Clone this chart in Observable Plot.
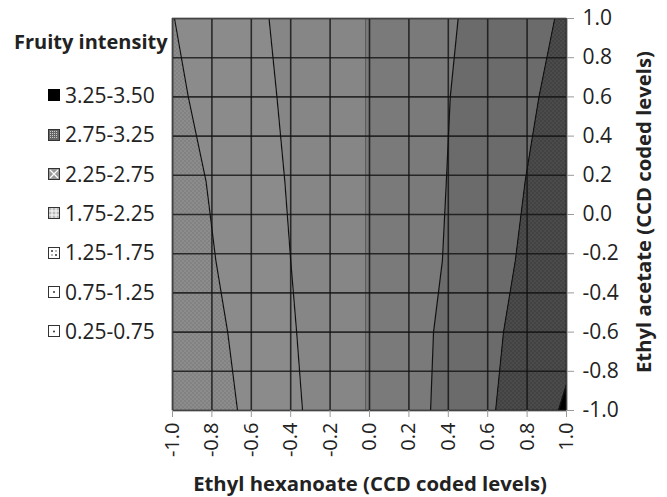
<!DOCTYPE html>
<html><head><meta charset="utf-8">
<script src="https://cdn.jsdelivr.net/npm/d3@7"></script>
<script src="https://cdn.jsdelivr.net/npm/@observablehq/plot@0.6"></script>
<style>
body{margin:0;background:#fff;font-family:"Open Sans",Lato,sans-serif;color:#222;}
#wrap{position:relative;width:667px;height:497px;overflow:hidden;}
#chart{position:absolute;left:0;top:0;}
.lg{position:absolute;font-size:21px;line-height:22px;white-space:nowrap;}
.lg svg{vertical-align:middle;margin-right:5px;position:relative;top:-2px;}
#lgTitle{position:absolute;left:14px;top:31px;font-weight:bold;font-size:20px;line-height:22px;white-space:nowrap;}
#xTitle{position:absolute;left:370px;top:483px;transform:translate(-50%,-50%);font-weight:bold;font-size:20.3px;white-space:nowrap;}
#yTitle{position:absolute;left:643px;top:212px;transform:translate(-50%,-50%) rotate(-90deg);font-weight:bold;font-size:20.3px;white-space:nowrap;}
</style></head>
<body>
<div id="wrap"><div id="chart"></div><div id="legend"></div>
<div id="lgTitle">Fruity intensity</div>
<div id="xTitle">Ethyl hexanoate (CCD coded levels)</div>
<div id="yTitle">Ethyl acetate (CCD coded levels)</div>
</div>
<script>
// ---- data ----
const xTicks = [-1.0, -0.8, -0.6, -0.4, -0.2, 0.0, 0.2, 0.4, 0.6, 0.8, 1.0];
const yTicks = [-1.0, -0.8, -0.6, -0.4, -0.2, 0.0, 0.2, 0.4, 0.6, 0.8, 1.0];
const contourY = [1.0, 0.6, 0.17, -0.235, -0.6, -1.0];   // ethyl acetate levels
const line1X = [-0.99, -0.92, -0.83, -0.78, -0.72, -0.67]; // contour 1
const line2X = [-0.51, -0.47, -0.43, -0.40, -0.37, -0.34]; // contour 2
const line3X = [0.45, 0.41, 0.39, 0.37, 0.325, 0.31];      // contour 3
const line4X = [0.94, 0.86, 0.79, 0.74, 0.68, 0.64];       // contour 4
const cornerY = [-0.87, -1.0];                              // contour 5 (corner)
const cornerX = [1.0, 0.96];
const shadeEdgeX = -0.02;                                   // shading step inside middle band
const legendLabels = ["3.25-3.50", "2.75-3.25", "2.25-2.75", "1.75-2.25", "1.25-1.75", "0.75-1.25", "0.25-0.75"];

const lo = -1, hi = 1;
const rows = contourY.map((y, i) => ({y, l1: line1X[i], l2: line2X[i], l3: line3X[i], l4: line4X[i]}));
const cornerRows = cornerY.map((y, i) => ({y, x: cornerX[i]}));
const fmt = d => d.toFixed(1);

const chart = Plot.plot({
  width: 667, height: 497,
  marginLeft: 172, marginRight: 101, marginTop: 18, marginBottom: 87,
  x: {domain: [lo, hi]},
  y: {domain: [lo, hi]},
  style: {fontFamily: "'Open Sans', Lato, sans-serif", fontSize: "20px", color: "#222", background: "transparent"},
  marks: [
    Plot.areaX(rows, {y: "y", x1: () => lo, x2: "l1", fill: "#8c8c8c"}),
    Plot.areaX(rows, {y: "y", x1: () => lo, x2: "l1", fill: "url(#chk)"}),
    Plot.areaX(rows, {y: "y", x1: "l1", x2: "l2", fill: "#8b8b8b"}),
    Plot.areaX(rows, {y: "y", x1: "l2", x2: "l3", fill: "#868686"}),
    Plot.areaX(rows, {y: "y", x1: () => shadeEdgeX, x2: "l3", fill: "#7a7a7a"}),
    Plot.areaX(rows, {y: "y", x1: "l3", x2: "l4", fill: "#6b6b6b"}),
    Plot.areaX(rows, {y: "y", x1: "l4", x2: () => hi, fill: "#4b4b4b"}),
    Plot.areaX(rows, {y: "y", x1: "l4", x2: () => hi, fill: "url(#chk2)"}),
    Plot.areaX(cornerRows, {y: "y", x1: "x", x2: () => hi, fill: "#000"}),
    Plot.gridX(xTicks, {stroke: "#111", strokeOpacity: 0.8, strokeWidth: 1.6}),
    Plot.gridY(yTicks, {stroke: "#111", strokeOpacity: 0.8, strokeWidth: 1.6}),
    Plot.ruleX([shadeEdgeX], {stroke: "#222", strokeOpacity: 0.35, strokeWidth: 1}),
    Plot.lineX(rows, {y: "y", x: "l1", stroke: "#111", strokeWidth: 1.2}),
    Plot.lineX(rows, {y: "y", x: "l2", stroke: "#111", strokeWidth: 1.2}),
    Plot.lineX(rows, {y: "y", x: "l3", stroke: "#111", strokeWidth: 1.2}),
    Plot.lineX(rows, {y: "y", x: "l4", stroke: "#111", strokeWidth: 1.2}),
    Plot.lineX(cornerRows, {y: "y", x: "x", stroke: "#111", strokeWidth: 1.2}),
    Plot.frame({stroke: "#444", strokeWidth: 1.2}),
    Plot.axisX(xTicks, {anchor: "bottom", tickSize: 7, tickPadding: 5, tickRotate: -90, tickFormat: fmt, label: null, stroke: "#999", fill: "#222", fontSize: 20}),
    Plot.axisY(yTicks, {anchor: "right", tickSize: 7, tickPadding: 9, tickFormat: fmt, label: null, stroke: "#999", fill: "#222", fontSize: 21})
  ]
});

const ns = "http://www.w3.org/2000/svg";
const defs = document.createElementNS(ns, "defs");
defs.innerHTML = `
<pattern id="chk" width="4" height="4" patternUnits="userSpaceOnUse">
  <rect width="2" height="2" fill="#000" fill-opacity="0.07"/><rect x="2" y="2" width="2" height="2" fill="#000" fill-opacity="0.07"/>
</pattern>
<pattern id="chk2" width="4" height="4" patternUnits="userSpaceOnUse">
  <rect width="2" height="2" fill="#000" fill-opacity="0.12"/><rect x="2" y="2" width="2" height="2" fill="#000" fill-opacity="0.12"/>
</pattern>`;
chart.insertBefore(defs, chart.firstChild);
document.getElementById("chart").appendChild(chart);

// ---- legend ----
const swatches = [
  `<rect x="0.5" y="0.5" width="11" height="11" fill="#000" stroke="#000"/>`,
  `<rect x="0.5" y="0.5" width="11" height="11" fill="#666" stroke="#333"/><rect x="2" y="2" width="8" height="8" fill="url(#lgDots)"/>`,
  `<rect x="0.5" y="0.5" width="11" height="11" fill="#999" stroke="#333"/><path d="M2,2L10,10M10,2L2,10" stroke="#fff" stroke-width="1.2"/>`,
  `<rect x="0.5" y="0.5" width="11" height="11" fill="#bbb" stroke="#333"/><path d="M4,1V11M8,1V11M1,4H11M1,8H11" stroke="#fff" stroke-width="1"/>`,
  `<rect x="0.5" y="0.5" width="11" height="11" fill="#fff" stroke="#333"/><circle cx="4" cy="4" r="1" fill="#333"/><circle cx="8" cy="8" r="1" fill="#333"/><circle cx="8" cy="4" r="0.8" fill="#666"/><circle cx="4" cy="8" r="0.8" fill="#666"/>`,
  `<rect x="0.5" y="0.5" width="11" height="11" fill="#fff" stroke="#333"/><circle cx="6" cy="6" r="1" fill="#333"/>`,
  `<rect x="0.5" y="0.5" width="11" height="11" fill="#fff" stroke="#333"/><circle cx="6" cy="6.5" r="1" fill="#333"/>`
];
const legend = document.getElementById("legend");
legendLabels.forEach((lab, i) => {
  const d = document.createElement("div");
  d.className = "lg";
  d.style.left = "48px";
  d.style.top = (95 + i * 39.3 - 11) + "px";
  d.innerHTML = `<svg width="12" height="12" viewBox="0 0 12 12"><defs><pattern id="lgDots" width="2" height="2" patternUnits="userSpaceOnUse"><rect width="1" height="1" fill="#ccc"/></pattern></defs>${swatches[i]}</svg>${lab}`;
  legend.appendChild(d);
});
</script>
</body></html>
